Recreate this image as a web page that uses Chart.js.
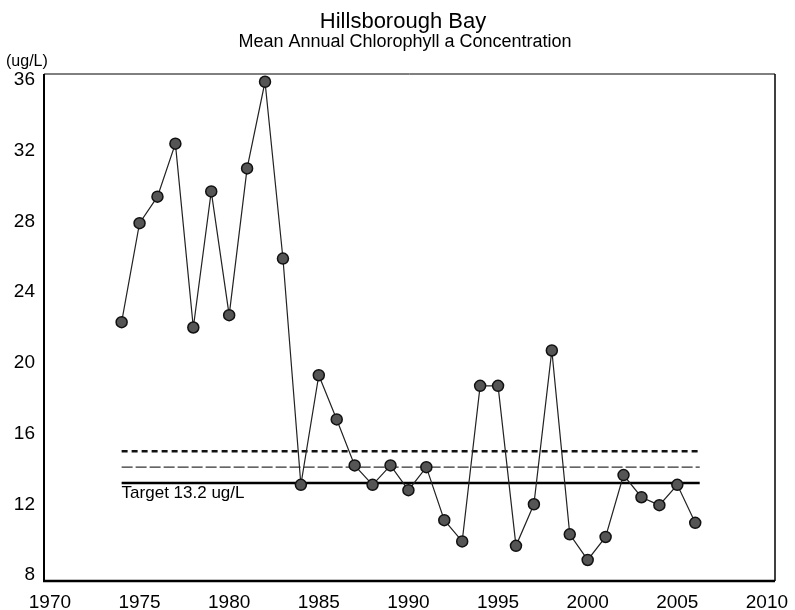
<!DOCTYPE html>
<html>
<head>
<meta charset="utf-8">
<script src="https://cdn.jsdelivr.net/npm/chart.js@4/dist/chart.umd.min.js"></script>
<style>
  html, body { margin: 0; padding: 0; background: #fff; }
  #wrap { width: 795px; height: 610px; }
</style>
</head>
<body>
<div id="wrap"><canvas id="chart" width="795" height="610"></canvas></div>
<script>
// Hillsborough Bay - mean annual chlorophyll a

const years = [1974, 1975, 1976, 1977, 1978, 1979, 1980, 1981, 1982, 1983,
    1984, 1985, 1986, 1987, 1988, 1989, 1990, 1991, 1992, 1993,
    1994, 1995, 1996, 1997, 1998, 1999, 2000, 2001, 2002, 2003,
    2004, 2005, 2006];
const chlorophyll = [22.3, 27.9, 29.4, 32.4, 22.0, 29.7, 22.7, 31.0, 35.9, 25.9,
    13.1, 19.3, 16.8, 14.2, 13.1, 14.2, 12.8, 14.1, 11.1, 9.9,
    18.7, 18.7, 9.65, 12.0, 20.7, 10.3, 8.85, 10.15, 13.65, 12.4,
    11.95, 13.1, 10.95];

const xTicks = [1970, 1975, 1980, 1985, 1990, 1995, 2000, 2005, 2010];
const yTicks = [8, 12, 16, 20, 24, 28, 32, 36];

// reference lines: target, and the two upper thresholds
const refSpan = [1974, 2006.25];
const targetLevel = 13.2;
const longDashLevel = 14.1;
const shortDashLevel = 15.0;

const FONT = "'Liberation Sans', Arial, sans-serif";

function refLine(level, width, dash, color) {
    return {
        data: refSpan.map(x => ({ x: x, y: level })),
        borderColor: color,
        borderWidth: width,
        borderDash: dash,
        pointRadius: 0,
        fill: false,
        order: 1
    };
}

// frame + loose texts
const decorations = {
    id: 'decorations',
    afterDraw(chart) {
        const { ctx, chartArea: a, scales } = chart;
        ctx.save();
        ctx.strokeStyle = '#000';
        ctx.lineWidth = 1;
        ctx.beginPath(); ctx.moveTo(a.left, a.top); ctx.lineTo(a.right, a.top); ctx.stroke();
        ctx.lineWidth = 1.5;
        ctx.beginPath(); ctx.moveTo(a.right, a.top); ctx.lineTo(a.right, a.bottom); ctx.stroke();
        ctx.lineWidth = 2;
        ctx.beginPath(); ctx.moveTo(a.left, a.top); ctx.lineTo(a.left, a.bottom); ctx.stroke();
        ctx.lineWidth = 2.5;
        ctx.beginPath(); ctx.moveTo(a.left - 1, a.bottom); ctx.lineTo(a.right, a.bottom); ctx.stroke();

        ctx.fillStyle = '#000';
        ctx.textAlign = 'center';
        ctx.textBaseline = 'alphabetic';
        ctx.font = '22px ' + FONT;
        ctx.fillText('Hillsborough Bay', 403, 28);
        ctx.font = '18px ' + FONT;
        ctx.fillText('Mean Annual Chlorophyll a Concentration', 405, 47);

        ctx.textAlign = 'left';
        ctx.font = '16px ' + FONT;
        ctx.fillText('(ug/L)', 6, 66);

        ctx.font = '17px ' + FONT;
        ctx.fillText('Target ' + targetLevel + ' ug/L',
            scales.x.getPixelForValue(refSpan[0]), scales.y.getPixelForValue(targetLevel) + 15);
        ctx.restore();
    }
};

new Chart(document.getElementById('chart'), {
    type: 'line',
    data: {
        datasets: [
            {
                data: years.map((yr, i) => ({ x: yr, y: chlorophyll[i] })),
                borderColor: '#222',
                borderWidth: 1.2,
                pointRadius: 5.5,
                pointBackgroundColor: '#555',
                pointBorderColor: '#111',
                pointBorderWidth: 1.5,
                fill: false,
                order: 0
            },
            refLine(shortDashLevel, 2.5, [6, 4], '#111'),
            refLine(longDashLevel, 1.2, [11, 3], '#333'),
            refLine(targetLevel, 2.5, [], '#000')
        ]
    },
    options: {
        responsive: false,
        animation: false,
        layout: { padding: { top: 74, right: 20, left: 0, bottom: 0 } },
        plugins: {
            legend: { display: false },
            tooltip: { enabled: false }
        },
        scales: {
            x: {
                type: 'linear',
                min: 1969.67,
                max: 2010.45,
                afterBuildTicks: s => { s.ticks = xTicks.map(v => ({ value: v })); },
                afterFit: s => { s.height = 29; },
                grid: { display: false },
                border: { display: false },
                ticks: {
                    color: '#000',
                    padding: 2,
                    maxRotation: 0,
                    font: { family: FONT, size: 19 },
                    callback: v => String(v)
                }
            },
            y: {
                min: 7.66,
                max: 36.34,
                afterBuildTicks: s => { s.ticks = yTicks.map(v => ({ value: v })); },
                afterFit: s => { s.width = 44; },
                grid: { display: false },
                border: { display: false },
                ticks: {
                    color: '#000',
                    padding: 1,
                    font: { family: FONT, size: 19 }
                }
            }
        }
    },
    plugins: [decorations]
});
</script>
</body>
</html>
